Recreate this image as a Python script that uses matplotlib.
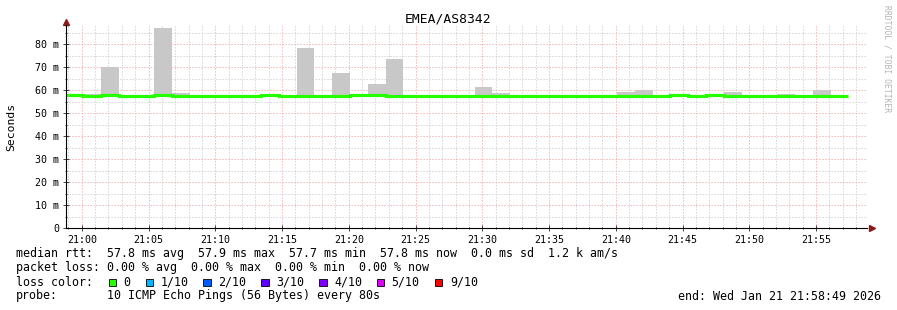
"""Smokeping-style latency chart for EMEA/AS8342 (RRDtool look)."""
import numpy as np
import matplotlib
matplotlib.use("Agg")
import matplotlib.pyplot as plt
from matplotlib.patches import Rectangle
from matplotlib.ticker import MultipleLocator, FuncFormatter

# --- data ------------------------------------------------------------------
first_step_min = -1.25          # start of first 80 s step, minutes after 21:00
step_s = 80
median_ms = [57.9, 57.7, 57.9, 57.7, 57.7, 57.9, 57.7, 57.7, 57.7, 57.7,
             57.7, 57.9, 57.7, 57.7, 57.7, 57.7, 57.8, 57.85, 57.7, 57.7,
             57.7, 57.7, 57.7, 57.7, 57.7, 57.7, 57.7, 57.7, 57.7, 57.7,
             57.7, 57.7, 57.7, 57.7, 57.9, 57.7, 57.95, 57.7, 57.7, 57.7,
             57.7, 57.7, 57.7, 57.7]
max_ms = [57.9, 58.4, 70.0, 57.7, 57.7, 87.0, 59.0, 57.7, 57.7, 57.7,
          57.7, 58.3, 57.7, 78.3, 57.7, 67.4, 57.8, 62.7, 73.5, 57.7,
          57.7, 57.7, 57.7, 61.3, 58.8, 57.7, 57.7, 57.7, 57.7, 57.7,
          57.7, 59.3, 60.0, 57.7, 57.9, 57.7, 58.6, 59.3, 57.7, 57.7,
          58.6, 57.7, 60.0, 57.7]
x_tick_labels = ["21:00", "21:05", "21:10", "21:15", "21:20", "21:25",
                 "21:30", "21:35", "21:40", "21:45", "21:50", "21:55"]

legend_lines = [
    "median rtt:  57.8 ms avg  57.9 ms max  57.7 ms min  57.8 ms now  0.0 ms sd  1.2 k am/s",
    "packet loss: 0.00 % avg  0.00 % max  0.00 % min  0.00 % now",
]
loss_labels = ["0", "1/10", "2/10", "3/10", "4/10", "5/10", "9/10"]
loss_colors = ["#26ff00", "#00b8ff", "#0059ff", "#5e00ff", "#7e00ff", "#dd00ff", "#ff0000"]
probe_text = "10 ICMP Echo Pings (56 Bytes) every 80s"
end_text = "end: Wed Jan 21 21:58:49 2026"

# --- figure ----------------------------------------------------------------
W, H = 897, 310
MONO = "DejaVu Sans Mono"
fig = plt.figure(figsize=(W / 100, H / 100), dpi=100)
ax = fig.add_axes([66 / W, (H - 228.3) / H, (867 - 66) / W, (228.3 - 25) / H])

step_min = step_s / 60
edges = first_step_min + step_min * np.arange(len(median_ms) + 1)
med = np.array(median_ms)
mx = np.array(max_ms)

ax.bar(edges[:-1], mx - med, bottom=med, width=step_min, align="edge",
       color="#c8c8c8", linewidth=0, zorder=2)
ax.stairs(med, edges, color=loss_colors[0], lw=2.3, baseline=None, zorder=3)

ax.set_xlim(-1.183, 58.817)
ax.set_ylim(0, 88.4)

ax.xaxis.set_major_locator(MultipleLocator(5))
ax.xaxis.set_minor_locator(MultipleLocator(1))
ax.yaxis.set_major_locator(MultipleLocator(10))
ax.yaxis.set_minor_locator(MultipleLocator(5))
ax.xaxis.set_major_formatter(FuncFormatter(
    lambda v, p: x_tick_labels[int(round(v / 5))] if 0 <= round(v / 5) < len(x_tick_labels) else ""))
ax.yaxis.set_major_formatter(FuncFormatter(
    lambda v, p: "0" if abs(v) < 1e-9 else f"{v:.0f} m"))

ax.grid(True, which="minor", color="#cdcdcd", lw=0.72, ls=(0, (1.2, 1.8)), zorder=0)
ax.grid(True, which="major", color="#f0a8a8", lw=0.72, ls=(0, (1.2, 1.8)), zorder=1)

for s in ("top", "right"):
    ax.spines[s].set_visible(False)
for s in ("left", "bottom"):
    ax.spines[s].set_color("black")
    ax.spines[s].set_linewidth(0.8)
    ax.spines[s].set_zorder(4)

ax.tick_params(which="major", direction="inout", length=4, width=0.5,
               labelsize=7.2, pad=3, colors="black")
ax.tick_params(which="minor", direction="inout", length=2, width=0.5, colors="black")
for lab in ax.get_xticklabels() + ax.get_yticklabels():
    lab.set_fontfamily(MONO)

# axis arrows
ax.plot([0], [1.015], marker="^", ms=4.5, color="#8b1a1a", transform=ax.transAxes, clip_on=False)
ax.plot([1.006], [0], marker=">", ms=4.5, color="#8b1a1a", transform=ax.transAxes, clip_on=False)

# --- texts -----------------------------------------------------------------
def fx(x):
    return x / W


def fy(y):
    return 1 - y / H


fig.text(fx(448), fy(19), "EMEA/AS8342", family=MONO, size=9.4, ha="center", va="center")
fig.text(fx(11), fy(127), "Seconds", family=MONO, size=8.2, rotation=90, ha="center", va="center")
fig.text(fx(887), fy(5), "RRDTOOL / TOBI OETIKER", family=MONO, size=5.8, color="#b4b4b4",
         rotation=270, ha="center", va="top")

LEG = 8.4
fig.text(fx(16), fy(254), legend_lines[0], family=MONO, size=LEG, va="center")
fig.text(fx(16), fy(268), legend_lines[1], family=MONO, size=LEG, va="center")
fig.text(fx(16), fy(282), "loss color:", family=MONO, size=LEG, va="center")
box_x = [108.7, 146, 203.3, 261.3, 319.3, 377, 435]
text_x = [123.3, 160.7, 218, 276, 334, 391.7, 450]
for bx, tx, lab, col in zip(box_x, text_x, loss_labels, loss_colors):
    fig.patches.append(Rectangle((fx(bx), fy(286)), 7.3 / W, 7.3 / H, transform=fig.transFigure,
                                 facecolor=col, edgecolor="black", lw=0.6))
    fig.text(fx(tx), fy(282), lab, family=MONO, size=LEG, va="center")
fig.text(fx(16), fy(296), "probe:", family=MONO, size=LEG, va="center")
fig.text(fx(107), fy(296), probe_text, family=MONO, size=LEG, va="center")
fig.text(fx(881), fy(296), end_text, family=MONO, size=LEG, va="center", ha="right")

fig.savefig("out.png", dpi=100)
